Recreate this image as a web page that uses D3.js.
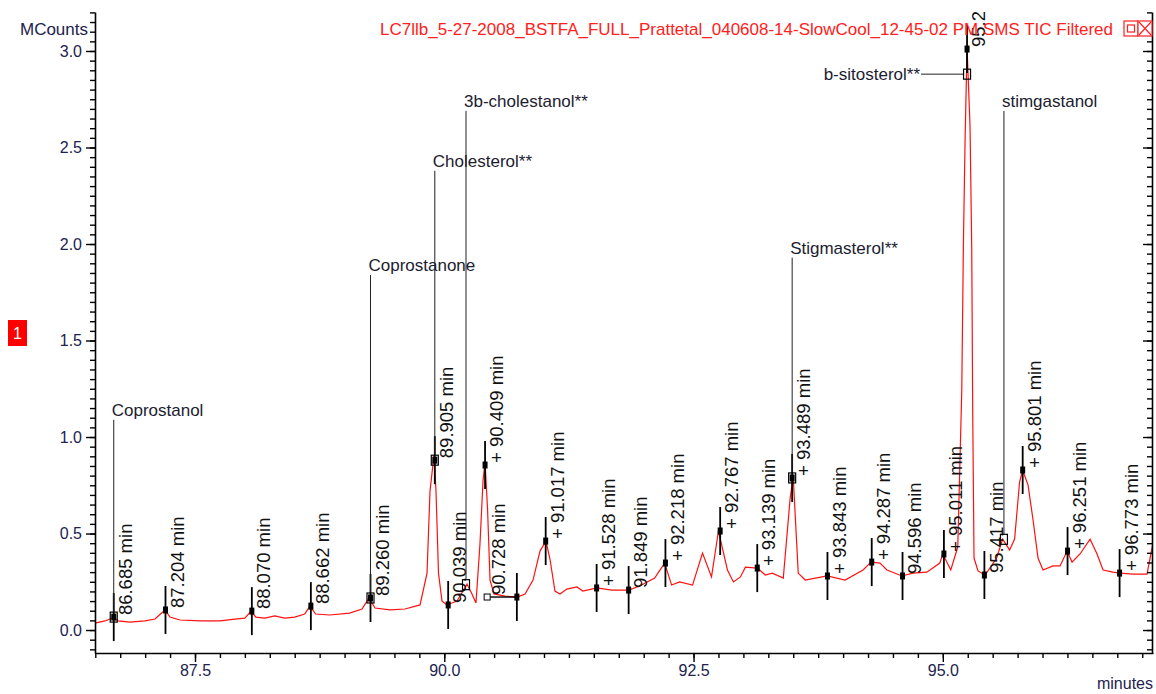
<!DOCTYPE html>
<html>
<head>
<meta charset="utf-8">
<script src="https://cdn.jsdelivr.net/npm/d3@7"></script>
<style>
  body { margin: 0; background: #fff; }
  text { font-family: "Liberation Sans", Arial, sans-serif; }
</style>
</head>
<body>
<svg id="chart" width="1156" height="694"></svg>
<script>
// TIC trace (minutes, MCounts)
var traceTime = [86.497, 86.597, 86.647, 86.683, 86.728, 86.848, 86.998, 87.099, 87.199, 87.249,
  87.35, 87.55, 87.75, 87.90, 88.0, 88.062, 88.11, 88.20, 88.30, 88.40,
  88.50, 88.60, 88.653, 88.71, 88.85, 89.05, 89.175, 89.245, 89.305, 89.456,
  89.606, 89.757, 89.827, 89.857, 89.897, 89.917, 89.942, 89.977, 90.027, 90.128,
  90.188, 90.228, 90.278, 90.318, 90.358, 90.389, 90.409, 90.434, 90.459, 90.499,
  90.609, 90.73, 90.81, 90.89, 90.96, 91.02, 91.06, 91.11, 91.16, 91.23,
  91.33, 91.39, 91.53, 91.68, 91.85, 91.96, 92.11, 92.21, 92.28, 92.36,
  92.49, 92.59, 92.68, 92.75, 92.84, 92.90, 92.97, 93.02, 93.14, 93.22,
  93.29, 93.40, 93.47, 93.50, 93.55, 93.62, 93.84, 94.02, 94.20, 94.28,
  94.37, 94.44, 94.59, 94.70, 94.84, 94.97, 95.0, 95.08, 95.15, 95.19,
  95.206, 95.223, 95.243, 95.273, 95.29, 95.30, 95.313, 95.353, 95.424, 95.54,
  95.60, 95.67, 95.72, 95.77, 95.80, 95.855, 95.905, 95.955, 96.005, 96.105,
  96.176, 96.246, 96.296, 96.376, 96.477, 96.547, 96.607, 96.707, 96.778, 96.908,
  97.048, 97.108];
var traceValue = [0.036, 0.047, 0.057, 0.067, 0.047, 0.041, 0.047, 0.057, 0.104, 0.067,
  0.052, 0.047, 0.047, 0.057, 0.062, 0.098, 0.067, 0.062, 0.073, 0.062,
  0.067, 0.083, 0.124, 0.083, 0.078, 0.088, 0.109, 0.166, 0.114, 0.104,
  0.109, 0.130, 0.295, 0.72, 0.907, 0.72, 0.295, 0.150, 0.130, 0.150,
  0.202, 0.238, 0.187, 0.140, 0.446, 0.777, 0.870, 0.627, 0.259, 0.187,
  0.176, 0.171, 0.187, 0.259, 0.409, 0.461, 0.368, 0.202, 0.187, 0.212,
  0.223, 0.202, 0.218, 0.207, 0.207, 0.228, 0.269, 0.347, 0.233, 0.249,
  0.233, 0.399, 0.275, 0.513, 0.311, 0.249, 0.275, 0.326, 0.321, 0.285,
  0.295, 0.269, 0.689, 0.790, 0.295, 0.259, 0.280, 0.259, 0.311, 0.352,
  0.347, 0.311, 0.280, 0.295, 0.300, 0.347, 0.394, 0.311, 0.430, 1.24,
  1.98, 2.53, 3.02, 2.61, 1.98, 1.12, 0.373, 0.306, 0.285, 0.373,
  0.471, 0.415, 0.471, 0.767, 0.829, 0.751, 0.570, 0.373, 0.311, 0.332,
  0.332, 0.409, 0.352, 0.394, 0.471, 0.394, 0.311, 0.300, 0.295, 0.290,
  0.290, 0.451];

// integrated peaks
var peakTime = [86.685, 87.204, 88.070, 88.662, 89.260, 89.905, 90.039, 90.409, 90.728, 91.017,
  91.528, 91.849, 92.218, 92.767, 93.139, 93.489, 93.843, 94.287, 94.596, 95.011,
  95.243, 95.417, 95.801, 96.251, 96.773];
var peakHeight = [0.067, 0.104, 0.098, 0.124, 0.166, 0.88, 0.13, 0.855, 0.171, 0.461,
  0.218, 0.207, 0.347, 0.513, 0.321, 0.788, 0.28, 0.352, 0.28, 0.394,
  3.01, 0.285, 0.829, 0.409, 0.295];
var peakLabel = ["86.685 min", "87.204 min", "88.070 min", "88.662 min", "89.260 min",
  "89.905 min", "90.039 min", "+ 90.409 min", "90.728 min", "+ 91.017 min",
  "+ 91.528 min", "91.849 min", "+ 92.218 min", "+ 92.767 min", "+ 93.139 min",
  "+ 93.489 min", "+ 93.843 min", "+ 94.287 min", "94.596 min", "+ 95.011 min",
  "95.243 min", "95.417 min", "+ 95.801 min", "+ 96.251 min", "+ 96.773 min"];
// 90.728 peak starts its integration from a baseline point
var baselineFrom = 90.43;

// identified compounds
var compoundName = ["Coprostanol", "Coprostanone", "Cholesterol**", "3b-cholestanol**",
  "Stigmasterol**", "b-sitosterol**", "stimgastanol"];
var compoundTime = [86.685, 89.260, 89.905, 90.218, 93.489, 95.243, 95.613];
var compoundHeight = [0.067, 0.166, 0.88, 0.235, 0.788, 2.88, 0.47];
var compoundLevel = [1.11, 1.86, 2.40, 2.71, 1.95, 2.86, 2.71];
var compoundSide = ["up", "up", "up", "up", "up", "left", "up"];

var yMajor = [0, 0.5, 1.0, 1.5, 2.0, 2.5, 3.0];
var xMajor = [87.5, 90.0, 92.5, 95.0];

var title = "LC7llb_5-27-2008_BSTFA_FULL_Prattetal_040608-14-SlowCool_12-45-02 PM SMS TIC Filtered";

var svg = d3.select("#chart");

var x = d3.scaleLinear().domain([86.497, 97.108]).range([95, 1153]);
var y = d3.scaleLinear().domain([-0.119, 3.202]).range([653, 12]);

var yMinor = d3.range(-0.1, 3.201, 0.05).map(d => +d.toFixed(2));
var xMinor = d3.range(86.5, 97.11, 0.25).map(d => +d.toFixed(2));

svg.append("defs").append("clipPath")
  .attr("id", "plotClip")
  .append("rect")
  .attr("x", 95).attr("y", 12)
  .attr("width", 1058).attr("height", 641);

var plot = svg.append("g").attr("clip-path", "url(#plotClip)");

// trace
var line = d3.line()
  .x(d => x(d[0]))
  .y(d => y(d[1]));

plot.append("path")
  .datum(d3.zip(traceTime, traceValue))
  .attr("d", line)
  .attr("fill", "none")
  .attr("stroke", "#ff1010")
  .attr("stroke-width", 1.2);

// axes
function styleAxis(g){
  g.selectAll("path.domain").attr("stroke", "#000").attr("stroke-width", 1.6);
  g.selectAll(".tick line").attr("stroke", "#000").attr("stroke-width", 1.4);
  g.selectAll(".tick text")
    .attr("fill", "#22224e")
    .style("font-size", "16px")
    .style("font-family", "'Liberation Sans', Arial, sans-serif");
}

var gLeftMinor = svg.append("g")
  .attr("transform", "translate(95,0)")
  .call(d3.axisLeft(y).tickValues(yMinor).tickSize(5).tickSizeOuter(0).tickFormat(""));
gLeftMinor.select(".domain").remove();
styleAxis(gLeftMinor);

var gLeft = svg.append("g")
  .attr("transform", "translate(95,0)")
  .call(d3.axisLeft(y).tickValues(yMajor).tickSize(9).tickSizeOuter(0)
    .tickPadding(4).tickFormat(d3.format(".1f")));
styleAxis(gLeft);

var gRightMinor = svg.append("g")
  .attr("transform", "translate(1152,0)")
  .call(d3.axisLeft(y).tickValues(yMinor).tickSize(5).tickSizeOuter(0).tickFormat(""));
gRightMinor.select(".domain").remove();
styleAxis(gRightMinor);

var gRight = svg.append("g")
  .attr("transform", "translate(1152,0)")
  .call(d3.axisLeft(y).tickValues(yMajor).tickSize(9).tickSizeOuter(0).tickFormat(""));
styleAxis(gRight);

var gBottomMinor = svg.append("g")
  .attr("transform", "translate(0,653)")
  .call(d3.axisBottom(x).tickValues(xMinor).tickSize(5).tickSizeOuter(0).tickFormat(""));
gBottomMinor.select(".domain").remove();
styleAxis(gBottomMinor);

var gBottom = svg.append("g")
  .attr("transform", "translate(0,653)")
  .call(d3.axisBottom(x).tickValues(xMajor).tickSize(9).tickSizeOuter(0)
    .tickPadding(3).tickFormat(d3.format(".1f")));
styleAxis(gBottom);

svg.append("text")
  .attr("x", 88).attr("y", 35)
  .attr("text-anchor", "end")
  .attr("fill", "#22224e")
  .style("font-size", "17px")
  .text("MCounts");

svg.append("text")
  .attr("x", 1153).attr("y", 689)
  .attr("text-anchor", "end")
  .attr("fill", "#22224e")
  .style("font-size", "16px")
  .text("minutes");

// peak marks
var peaks = peakTime.map((t, i) => ({t: t, v: peakHeight[i], label: peakLabel[i]}));

var pk = plot.selectAll("g.peak")
  .data(peaks)
  .enter()
  .append("g")
  .attr("class", "peak");

pk.append("line")
  .attr("x1", d => x(d.t)).attr("x2", d => x(d.t))
  .attr("y1", d => y(d.v) - 24).attr("y2", d => y(d.v) + 24)
  .attr("stroke", "#000")
  .attr("stroke-width", 1.8);

pk.append("rect")
  .attr("x", d => x(d.t) - 2.5)
  .attr("y", d => y(d.v) - 3.5)
  .attr("width", 5).attr("height", 7)
  .attr("fill", "#000");

pk.append("text")
  .attr("transform", d => {
    var lx = d.t == 90.728 ? x(baselineFrom) : x(d.t);
    return "translate(" + (lx + 11.5) + "," + (y(d.v) - 2) + ") rotate(-90)";
  })
  .attr("dy", "0.36em")
  .attr("fill", "#111")
  .style("font-size", "18.5px")
  .text(d => d.label);

// baseline segment of the 90.728 peak
var blY = y(peakHeight[peakTime.indexOf(90.728)]);
plot.append("line")
  .attr("x1", x(baselineFrom)).attr("x2", x(90.728))
  .attr("y1", blY).attr("y2", blY)
  .attr("stroke", "#000").attr("stroke-width", 1.4);
plot.append("rect")
  .attr("x", x(baselineFrom) - 3).attr("y", blY - 3)
  .attr("width", 6).attr("height", 6)
  .attr("fill", "#fff").attr("stroke", "#000").attr("stroke-width", 1);

// compound labels
var compounds = compoundName.map((n, i) => ({
  name: n, t: compoundTime[i], v: compoundHeight[i], level: compoundLevel[i], side: compoundSide[i]
}));

var cg = plot.selectAll("g.compound")
  .data(compounds)
  .enter()
  .append("g")
  .attr("class", "compound");

cg.filter(d => d.side == "up").append("line")
  .attr("x1", d => x(d.t)).attr("x2", d => x(d.t))
  .attr("y1", d => y(d.level) + 4)
  .attr("y2", d => y(d.v) - 5)
  .attr("stroke", "#222").attr("stroke-width", 1);

cg.filter(d => d.side == "left").append("line")
  .attr("x1", d => x(d.t) - 46).attr("x2", d => x(d.t) - 4)
  .attr("y1", d => y(d.v)).attr("y2", d => y(d.v))
  .attr("stroke", "#222").attr("stroke-width", 1);

cg.append("rect")
  .attr("x", d => x(d.t) - 3.5)
  .attr("y", d => y(d.v) - 5)
  .attr("width", 7).attr("height", 10)
  .attr("fill", "none")
  .attr("stroke", "#000").attr("stroke-width", 1.2);

cg.append("text")
  .attr("x", d => d.side == "left" ? x(d.t) - 47 : x(d.t) - 2)
  .attr("y", d => d.side == "left" ? y(d.v) : y(d.level))
  .attr("dy", d => d.side == "left" ? "0.35em" : 0)
  .attr("text-anchor", d => d.side == "left" ? "end" : "start")
  .attr("fill", "#1c1c30")
  .style("font-size", "17px")
  .text(d => d.name);

// title and window icons
svg.append("text")
  .attr("x", 1113).attr("y", 35)
  .attr("text-anchor", "end")
  .attr("fill", "#ff2020")
  .style("font-size", "17px")
  .text(title);

var icons = svg.append("g");
icons.append("rect").attr("x", 1124).attr("y", 21).attr("width", 14).attr("height", 15)
  .attr("fill", "#fff").attr("stroke", "#ff2020").attr("stroke-width", 1.2);
icons.append("rect").attr("x", 1127.5).attr("y", 25).attr("width", 7).attr("height", 7)
  .attr("fill", "none").attr("stroke", "#ff2020").attr("stroke-width", 1.2);
icons.append("rect").attr("x", 1138).attr("y", 21).attr("width", 14).attr("height", 15)
  .attr("fill", "#fff").attr("stroke", "#ff2020").attr("stroke-width", 1.2);
icons.append("path").attr("d", "M1139,22L1151,35M1151,22L1139,35")
  .attr("stroke", "#ff2020").attr("stroke-width", 1.2);

// trace number badge
svg.append("rect").attr("x", 8).attr("y", 320).attr("width", 19).attr("height", 26)
  .attr("fill", "#ff0000");
svg.append("text").attr("x", 17.5).attr("y", 339)
  .attr("text-anchor", "middle")
  .attr("fill", "#fff")
  .style("font-size", "16px")
  .text("1");
</script>
</body>
</html>
